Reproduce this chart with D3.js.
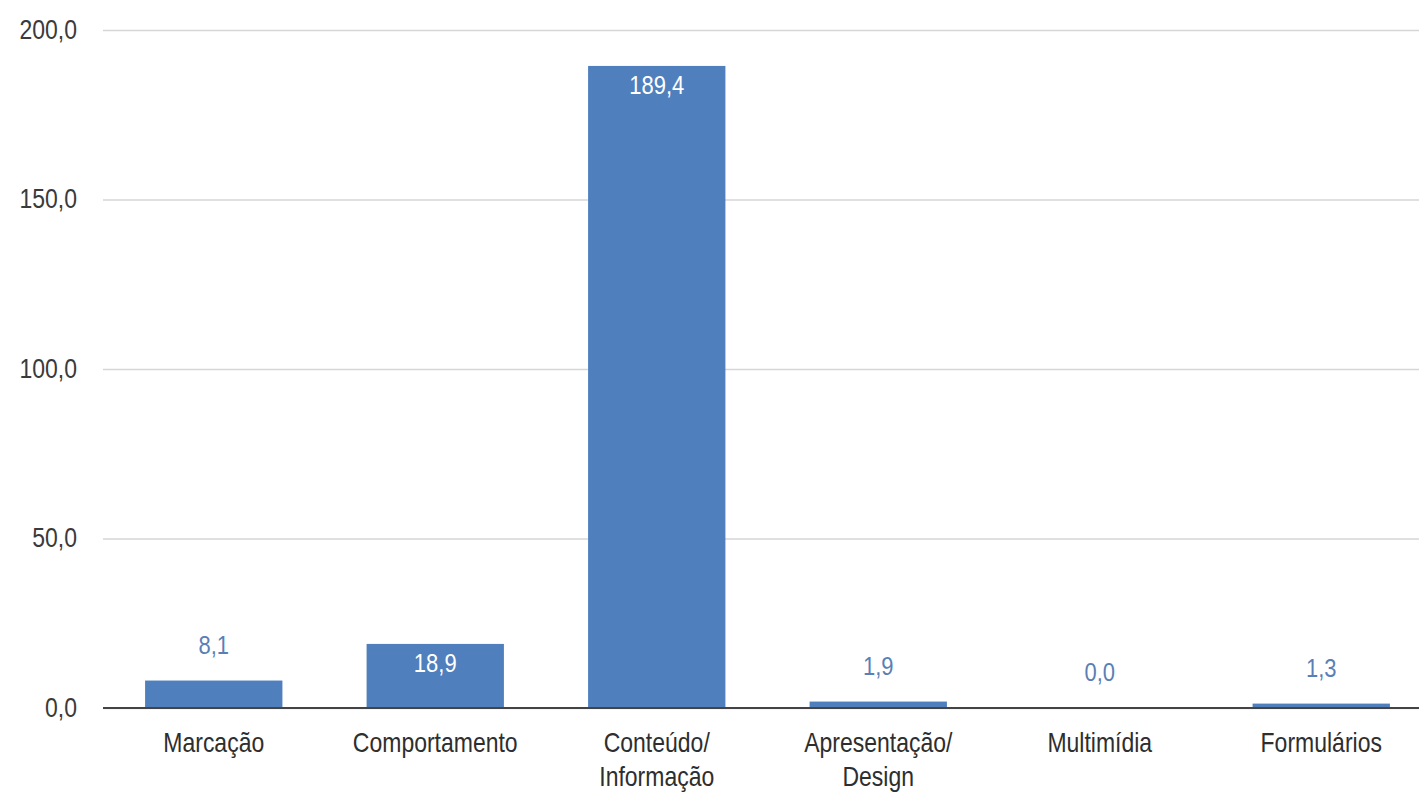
<!DOCTYPE html>
<html>
<head>
<meta charset="utf-8">
<script src="https://cdn.jsdelivr.net/npm/d3@7"></script>
<style>
  body { margin: 0; background: #fff; }
  text { font-family: "Liberation Sans", Arial, sans-serif; }
</style>
</head>
<body>
<svg id="chart"></svg>
<script>
// data
const categories = ["Marcação", "Comportamento", "Conteúdo/\nInformação", "Apresentação/\nDesign", "Multimídia", "Formulários"];
const values = [8.1, 18.9, 189.4, 1.9, 0.0, 1.3];
const yTicks = [0, 50, 100, 150, 200];

const width = 1419, height = 793;
const margin = { top: 30, right: -13, bottom: 85, left: 103 };
const stretch = 1.18; // text in the picture is a bit tall for its width

const svg = d3.select("#chart")
    .attr("width", width)
    .attr("height", height);

const x = d3.scaleBand()
    .domain(categories)
    .range([margin.left, width - margin.right])
    .paddingInner(0.38)
    .paddingOuter(0.19);

const y = d3.scaleLinear()
    .domain([0, 200])
    .range([height - margin.bottom, margin.top]);

const fmt = v => d3.format(".1f")(v).replace(".", ",");

// gridlines + y labels
const yAxis = d3.axisLeft(y)
    .tickValues(yTicks)
    .tickSize(-(width - margin.left))
    .tickPadding(26)
    .tickFormat(fmt);

const yG = svg.append("g")
    .attr("transform", `translate(${margin.left},0)`)
    .call(yAxis);
yG.select(".domain").remove();
yG.selectAll(".tick line").attr("stroke", "#d6d6d6").attr("stroke-width", 1.5);
yG.selectAll(".tick text")
    .attr("fill", "#3a3a3a")
    .style("font-size", "23px")
    .attr("dy", null)
    .attr("transform", `translate(0,8) scale(1,${stretch})`);

// bars
svg.append("g").selectAll("rect")
  .data(values)
  .join("rect")
    .attr("x", (d, i) => x(categories[i]))
    .attr("width", x.bandwidth())
    .attr("y", d => y(d))
    .attr("height", d => y(0) - y(d))
    .attr("fill", "#4f80bd");

// value labels: inside the bar when it is tall enough
svg.append("g").selectAll("text")
  .data(values)
  .join("text")
    .attr("text-anchor", "middle")
    .style("font-size", "22px")
    .attr("fill", d => d > 15 ? "#fff" : "#5a7fb6")
    .attr("transform", (d, i) => {
      const cx = x(categories[i]) + x.bandwidth() / 2;
      const cy = d > 15 ? y(d) + 28 : y(d) - 27;
      return `translate(${cx},${cy}) scale(1,${stretch})`;
    })
    .text(fmt);

// zero line
svg.append("line")
    .attr("x1", margin.left)
    .attr("x2", width)
    .attr("y1", y(0))
    .attr("y2", y(0))
    .attr("stroke", "#444")
    .attr("stroke-width", 2);

// category labels
const catG = svg.append("g").selectAll("text")
  .data(categories)
  .join("text")
    .attr("text-anchor", "middle")
    .attr("fill", "#2e2e2e")
    .style("font-size", "23px")
    .attr("transform", d => `translate(${x(d) + x.bandwidth() / 2},${y(0) + 44}) scale(1,${stretch})`);

catG.selectAll("tspan")
  .data(d => d.split("\n"))
  .join("tspan")
    .attr("x", 0)
    .attr("y", (d, i) => i * 29)
    .text(d => d);
</script>
</body>
</html>
